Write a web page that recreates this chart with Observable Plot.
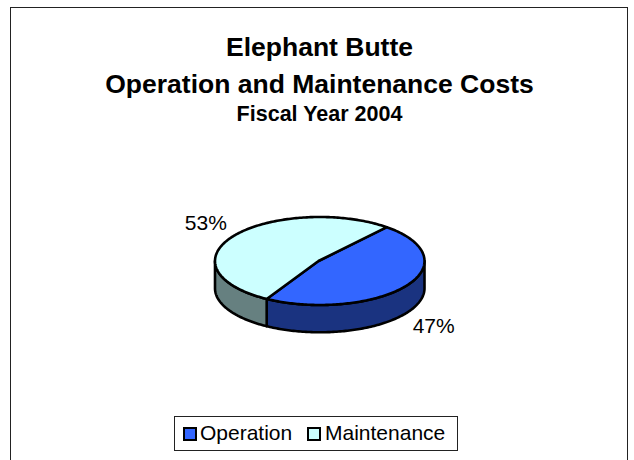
<!DOCTYPE html>
<html>
<head>
<meta charset="utf-8">
<script src="https://cdn.jsdelivr.net/npm/d3@7"></script>
<script src="https://cdn.jsdelivr.net/npm/@observablehq/plot@0.6"></script>
<style>
html,body{margin:0;padding:0;background:#fff;overflow:hidden}
body{font-family:"Liberation Sans",Arial,sans-serif;color:#000}
#page{position:relative;width:634px;height:460px;overflow:hidden}
#frame{position:absolute;left:10px;top:7px;width:618px;height:470px;border:1.5px solid #222;box-sizing:border-box}
.t{position:absolute;left:0;width:639px;text-align:center;font-weight:bold;white-space:nowrap;line-height:1}
#chart{position:absolute;left:0;top:130px}
#legend{position:absolute;left:174px;top:416px;width:284px;height:35px;box-sizing:border-box;border:1px solid #222;background:#fff;font-size:21px}
#legend i{position:absolute;top:10px;width:14px;height:14px;box-sizing:border-box;border:2px solid #000}
#legend span{position:absolute;top:4px;line-height:23px;white-space:nowrap}
</style>
</head>
<body>
<div id="page">
  <div id="frame"></div>
  <div class="t" style="top:34px;font-size:26.5px">Elephant Butte</div>
  <div class="t" style="top:71px;font-size:26.5px">Operation and Maintenance Costs</div>
  <div class="t" style="top:104px;font-size:21.5px">Fiscal Year 2004</div>
  <div id="chart"></div>
  <div id="legend"></div>
</div>
<script>
const categories = ["Operation", "Maintenance"];
const shares = [47.4, 52.6];
const topColors = ["#3366ff", "#ccffff"];
const sideColors = ["#1a3380", "#668080"];

const startAngle = 39.8;    // first slice begins here, clockwise from 12 o'clock
const depth = 0.62;         // thickness of the disc, in radii of the y scale
const apexX = -0.012;       // the slices meet slightly left of the ellipse centre
const rad = d => d * Math.PI / 180;
const px = a => Math.sin(rad(a));
const py = a => Math.cos(rad(a));

// slice angle ranges from the shares
let cursor = startAngle;
const slices = categories.map((name, i) => {
  const a0 = cursor, a1 = cursor + shares[i] * 3.6;
  cursor = a1;
  return {name, share: shares[i], a0, a1, side: sideColors[i]};
});
const arc = (a0, a1) => {
  const n = Math.max(2, Math.ceil(Math.abs(a1 - a0)));
  return d3.range(n + 1).map(k => a0 + (a1 - a0) * k / n);
};

// top faces
const faces = slices.flatMap(s => {
  const rim = arc(s.a0, s.a1).map(a => ({name: s.name, x: px(a), y: py(a)}));
  const c = {name: s.name, x: apexX, y: 0};
  return [c, ...rim, c];
});

// visible part of the wall: the lower half of the rim
const walls = slices.map(s => {
  const ranges = [[s.a0, s.a1], [s.a0 - 360, s.a1 - 360]];
  for (const [a, b] of ranges) {
    const lo = Math.max(a, 90), hi = Math.min(b, 270);
    if (lo < hi) {
      const rim = arc(lo, hi);
      const upper = rim.map(t => ({x: px(t), y: py(t)}));
      const lower = rim.slice().reverse().map(t => ({x: px(t), y: py(t) - depth}));
      return {side: s.side, pts: [...upper, ...lower, upper[0]]};
    }
  }
  return {side: s.side, pts: []};
});

// percent labels sit outside the rim, at each slice's middle angle
const labels = slices.map(s => {
  const m = (s.a0 + s.a1) / 2;
  const c = py(m);
  return {text: Math.round(s.share) + "%", x: px(m) * 1.33, y: c * 1.5 - (c < 0 ? depth : 0)};
});

const plot = Plot.plot({
  width: 634,
  height: 270,
  margin: 0,
  x: {domain: [-1, 1], range: [214.5, 424], axis: null},
  y: {domain: [-1, 1], range: [174.5, 86.5], axis: null},
  color: {domain: categories, range: topColors},
  marks: [
    ...walls.map(w => Plot.line(w.pts, {
      x: "x", y: "y", fill: w.side, stroke: "#000", strokeWidth: 2.6,
      strokeLinejoin: "round", curve: "linear"
    })),
    Plot.line(faces, {
      x: "x", y: "y", z: "name", fill: "name", stroke: "#000", strokeWidth: 2.6,
      strokeLinejoin: "round", curve: "linear"
    }),
    Plot.text(labels, {
      x: "x", y: "y", text: "text", fontSize: 21, fill: "#000",
      fontFamily: "Liberation Sans, Arial, sans-serif"
    })
  ]
});
document.getElementById("chart").appendChild(plot);

// legend
const legend = document.getElementById("legend");
const swatchLeft = [7.5, 131.5], textLeft = [25, 150];
categories.forEach((name, i) => {
  const sw = document.createElement("i");
  sw.style.left = swatchLeft[i] + "px";
  sw.style.background = topColors[i];
  const tx = document.createElement("span");
  tx.style.left = textLeft[i] + "px";
  tx.textContent = name;
  legend.append(sw, tx);
});
</script>
</body>
</html>
